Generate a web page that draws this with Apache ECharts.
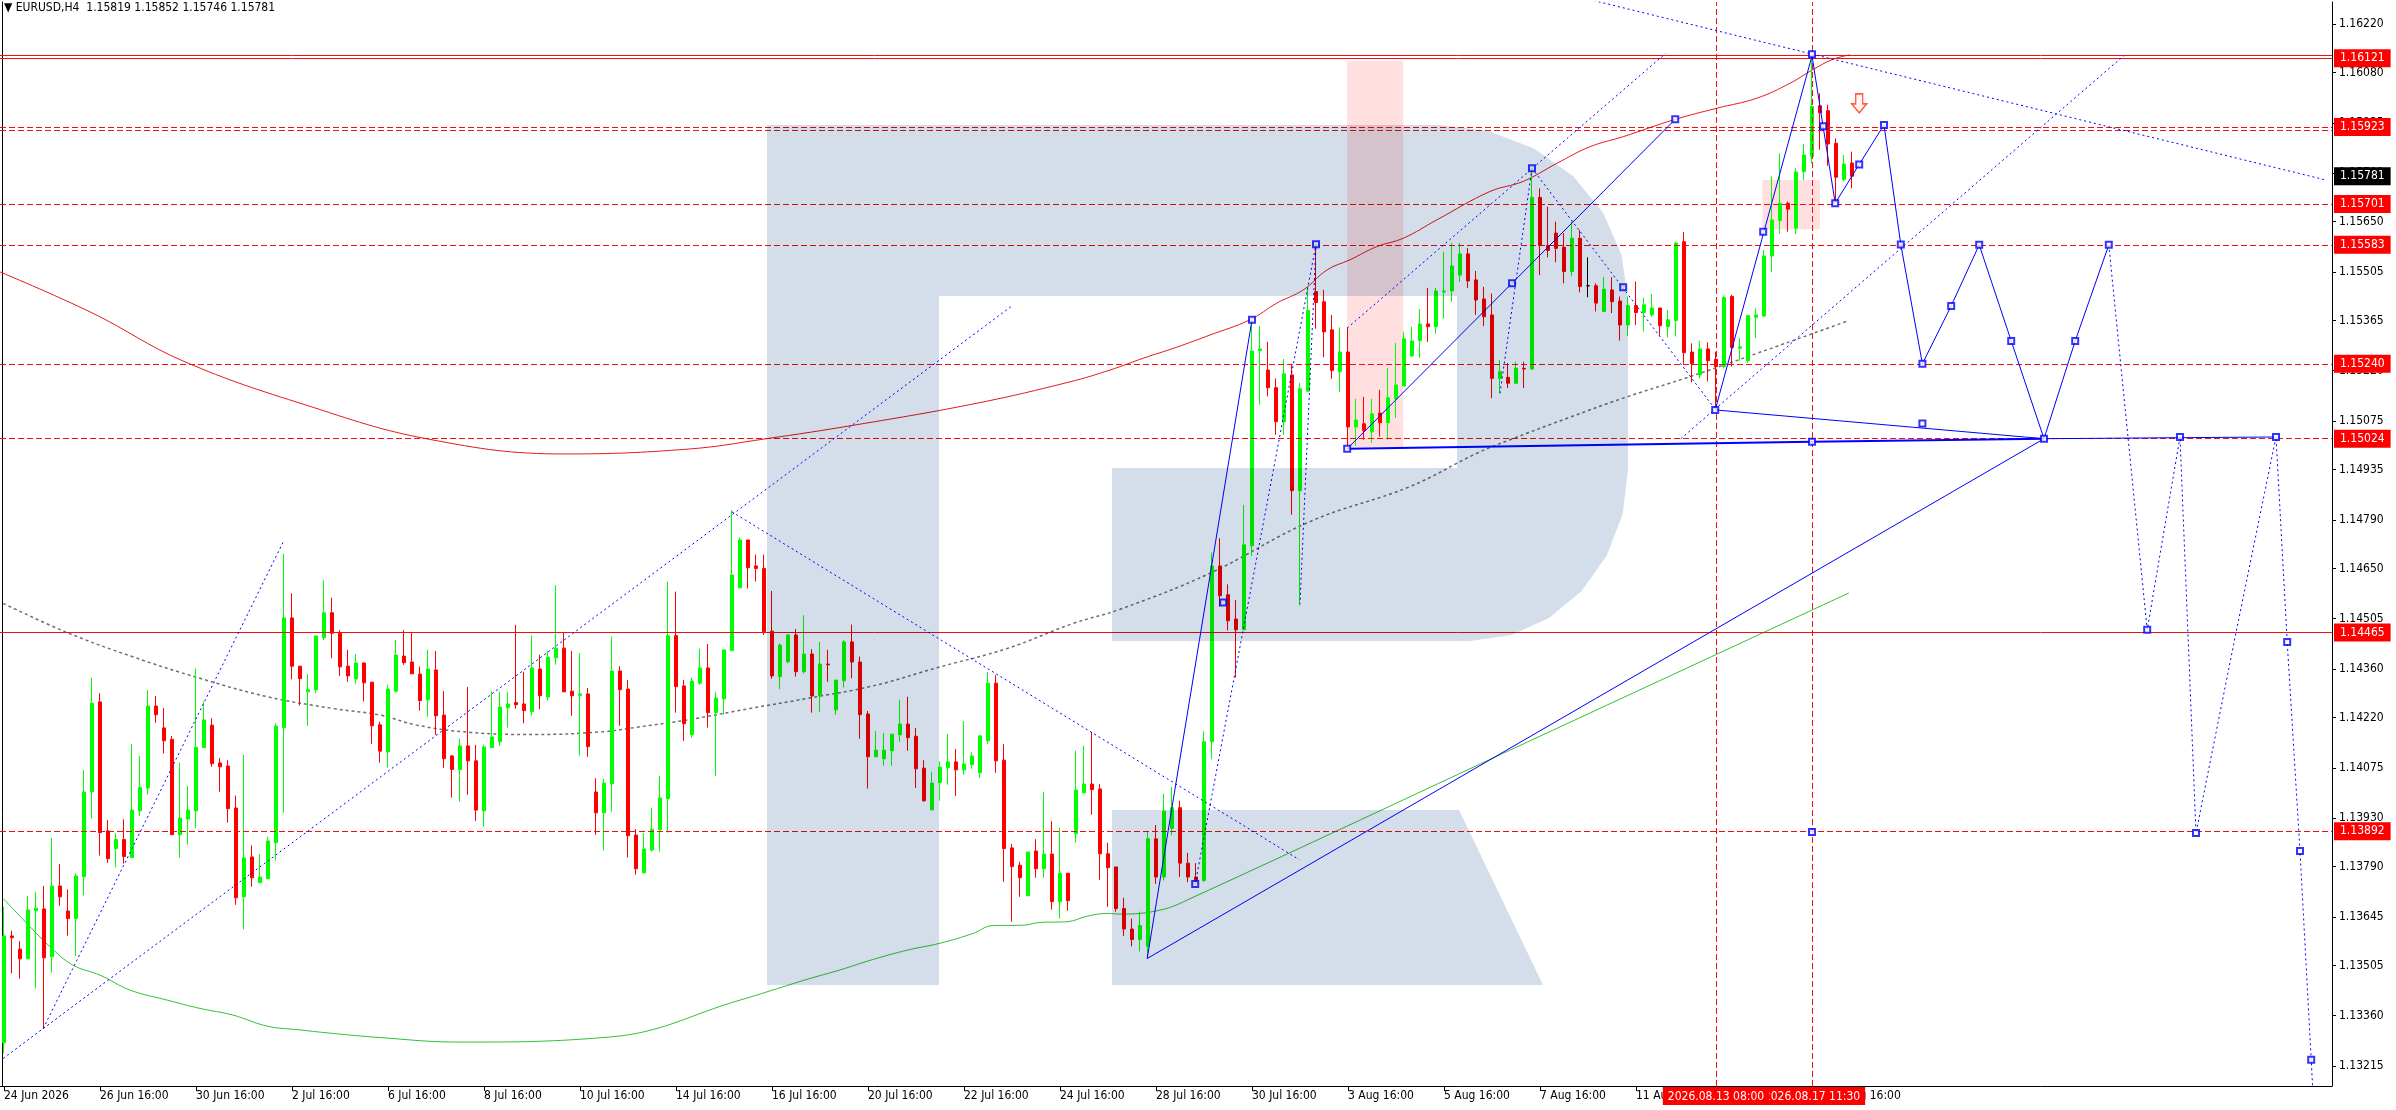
<!DOCTYPE html>
<html><head><meta charset="utf-8">
<script src="https://cdn.jsdelivr.net/npm/echarts@6/dist/echarts.min.js"></script>
<style>html,body{margin:0;padding:0;background:#fff;}#c{width:2396px;height:1110px;}</style>
</head><body><div id="c"></div>
<script>
const FONT = "'DejaVu Sans Condensed','DejaVu Sans',sans-serif";
const headerText = '\u25BC EURUSD,H4  1.15819 1.15852 1.15746 1.15781';

// ---- candles (H4 bars, index 0 = first bar) ----
const O = [1.13282,1.13590,1.13552,1.13524,1.13663,1.13668,1.13530,1.13734,1.13662,1.13640,
1.13761,1.14006,1.14265,1.13893,1.13842,1.13868,1.13816,1.13951,1.14017,1.14253,
1.14190,1.14157,1.13882,1.13927,1.13951,1.14133,1.14198,1.14089,1.14080,1.13959,
1.13703,1.13818,1.13744,1.13755,1.13859,1.14191,1.14507,1.14368,1.14294,1.14300,
1.14450,1.14522,1.14463,1.14368,1.14331,1.14377,1.14322,1.14199,1.14121,1.14296,
1.14397,1.14380,1.14345,1.14271,1.14357,1.14227,1.14109,1.14070,1.14138,1.14095,
1.13951,1.14133,1.14150,1.14248,1.14263,1.14259,1.14237,1.14360,1.14279,1.14392,
1.14420,1.14296,1.14284,1.14288,1.14005,1.13945,1.14029,1.14354,1.14302,1.13881,
1.13772,1.13838,1.13896,1.13986,1.14456,1.14311,1.14170,1.14319,1.14363,1.14234,
1.14274,1.14413,1.14594,1.14732,1.14657,1.14650,1.14469,1.14338,1.14381,1.14458,
1.14352,1.14403,1.14283,1.14374,1.14242,1.14326,1.14438,1.14380,1.14230,1.14107,
1.14101,1.14124,1.14170,1.14201,1.14166,1.14074,1.13954,1.14032,1.14075,1.14092,
1.14069,1.14084,1.14061,1.14153,1.14319,1.14097,1.13844,1.13794,1.13706,1.13835,
1.13784,1.13826,1.13689,1.13771,1.13885,1.14003,1.14028,1.14014,1.13827,1.13789,
1.13669,1.13610,1.13580,1.13560,1.13870,1.13760,1.13900,1.13960,1.13800,1.13760,
1.13750,1.14150,1.14657,1.14574,1.14504,1.14473,1.14715,1.15278,1.15222,1.15171,
1.15073,1.15208,1.14874,1.15161,1.15448,1.15419,1.15338,1.15217,1.15274,1.15058,
1.15067,1.15044,1.15098,1.15070,1.15139,1.15176,1.15263,1.15307,1.15355,1.15347,
1.15447,1.15450,1.15496,1.15557,1.15482,1.15427,1.15381,1.15198,1.15201,1.15184,
1.15227,1.15225,1.15720,1.15581,1.15617,1.15576,1.15506,1.15602,1.15465,1.15465,
1.15391,1.15453,1.15421,1.15352,1.15408,1.15388,1.15381,1.15401,1.15347,1.15365,
1.15592,1.15274,1.15208,1.15283,1.15253,1.15232,1.15434,1.15285,1.15249,1.15374,
1.15378,1.15551,1.15653,1.15703,1.15631,1.15794,1.15838,1.15984,1.15970,1.15876,
1.15772,1.15819];
const H = [1.13674,1.13605,1.13575,1.13705,1.13717,1.13734,1.13873,1.13797,1.13724,1.13770,
1.14068,1.14335,1.14290,1.13924,1.13886,1.13926,1.14143,1.14109,1.14299,1.14282,
1.14247,1.14166,1.14090,1.14022,1.14361,1.14266,1.14218,1.14103,1.14097,1.13995,
1.14112,1.13851,1.13826,1.13876,1.14203,1.14693,1.14578,1.14368,1.14345,1.14455,
1.14616,1.14565,1.14472,1.14415,1.14403,1.14380,1.14322,1.14207,1.14314,1.14443,
1.14472,1.14467,1.14367,1.14415,1.14412,1.14296,1.14112,1.14159,1.14308,1.14141,
1.14141,1.14296,1.14294,1.14294,1.14487,1.14352,1.14456,1.14401,1.14412,1.14602,
1.14467,1.14412,1.14406,1.14305,1.14045,1.14043,1.14453,1.14368,1.14328,1.13898,
1.13887,1.13960,1.14052,1.14612,1.14583,1.14328,1.14335,1.14418,1.14432,1.14294,
1.14415,1.14818,1.14739,1.14732,1.14690,1.14690,1.14585,1.14434,1.14461,1.14475,
1.14515,1.14417,1.14438,1.14415,1.14328,1.14443,1.14488,1.14396,1.14239,1.14181,
1.14175,1.14172,1.14271,1.14280,1.14190,1.14097,1.14063,1.14094,1.14173,1.14129,
1.14210,1.14120,1.14170,1.14351,1.14342,1.14143,1.13855,1.13804,1.13832,1.13869,
1.14006,1.13921,1.13902,1.13771,1.14124,1.14139,1.14178,1.14028,1.13859,1.13789,
1.13700,1.13640,1.13660,1.13890,1.13910,1.14000,1.14020,1.13980,1.13830,1.13800,
1.14180,1.14696,1.14737,1.14604,1.14559,1.14833,1.15367,1.15349,1.15303,1.15198,
1.15254,1.15240,1.15185,1.15463,1.15585,1.15453,1.15381,1.15345,1.15345,1.15139,
1.15145,1.15139,1.15165,1.15228,1.15300,1.15332,1.15347,1.15398,1.15459,1.15459,
1.15563,1.15589,1.15589,1.15574,1.15508,1.15462,1.15443,1.15251,1.15242,1.15246,
1.15246,1.15804,1.15746,1.15693,1.15650,1.15617,1.15650,1.15626,1.15547,1.15472,
1.15490,1.15490,1.15434,1.15434,1.15477,1.15431,1.15442,1.15401,1.15395,1.15592,
1.15620,1.15299,1.15306,1.15302,1.15275,1.15437,1.15439,1.15314,1.15381,1.15400,
1.15568,1.15780,1.15847,1.15708,1.15804,1.15874,1.16128,1.16020,1.15987,1.15890,
1.15842,1.15852];
const L = [1.13251,1.13482,1.13467,1.13524,1.13439,1.13323,1.13484,1.13677,1.13591,1.13532,
1.13707,1.13928,1.13822,1.13801,1.13788,1.13799,1.13816,1.13936,1.13997,1.14205,
1.14116,1.13882,1.13816,1.13853,1.13902,1.14133,1.14078,1.14006,1.13917,1.13680,
1.13609,1.13732,1.13742,1.13755,1.13807,1.13945,1.14330,1.14254,1.14196,1.14291,
1.14443,1.14391,1.14340,1.14323,1.14317,1.14266,1.14144,1.14090,1.14076,1.14292,
1.14372,1.14346,1.14240,1.14222,1.14170,1.14075,1.13989,1.13977,1.13997,1.13922,
1.13905,1.14133,1.14139,1.14191,1.14245,1.14203,1.14225,1.14244,1.14269,1.14372,
1.14294,1.14225,1.14110,1.14107,1.13882,1.13836,1.13948,1.14196,1.13816,1.13767,
1.13770,1.13833,1.13833,1.13888,1.14234,1.14153,1.14162,1.14314,1.14191,1.14052,
1.14228,1.14413,1.14594,1.14592,1.14612,1.14458,1.14332,1.14302,1.14376,1.14338,
1.14347,1.14234,1.14236,1.14323,1.14228,1.14306,1.14333,1.14159,1.14015,1.14104,
1.14081,1.14081,1.14150,1.14124,1.14017,1.13977,1.13951,1.13980,1.14026,1.13994,
1.14055,1.14072,1.14046,1.14144,1.14061,1.13746,1.13631,1.13703,1.13706,1.13758,
1.13758,1.13666,1.13640,1.13663,1.13859,1.14003,1.13940,1.13752,1.13674,1.13660,
1.13590,1.13560,1.13545,1.13526,1.13740,1.13750,1.13880,1.13760,1.13745,1.13740,
1.13745,1.14100,1.14540,1.14471,1.14335,1.14473,1.14686,1.15122,1.15146,1.15035,
1.15035,1.14805,1.14543,1.15161,1.15341,1.15259,1.15197,1.15159,1.15001,1.15003,
1.15021,1.15012,1.15030,1.15021,1.15084,1.15176,1.15259,1.15257,1.15303,1.15327,
1.15370,1.15419,1.15476,1.15459,1.15381,1.15349,1.15141,1.15155,1.15170,1.15182,
1.15170,1.15222,1.15496,1.15547,1.15533,1.15472,1.15492,1.15446,1.15432,1.15391,
1.15391,1.15386,1.15307,1.15321,1.15352,1.15333,1.15376,1.15321,1.15316,1.15319,
1.15240,1.15187,1.15198,1.15189,1.15107,1.15227,1.15232,1.15249,1.15242,1.15314,
1.15374,1.15504,1.15615,1.15621,1.15614,1.15770,1.15818,1.15857,1.15811,1.15708,
1.15766,1.15746];
const C = [1.13590,1.13585,1.13524,1.13665,1.13670,1.13527,1.13734,1.13703,1.13640,1.13763,
1.14005,1.14261,1.13888,1.13813,1.13868,1.13819,1.13953,1.14018,1.14253,1.14228,
1.14153,1.13882,1.13930,1.13953,1.14134,1.14213,1.14087,1.14078,1.13957,1.13700,
1.13815,1.13758,1.13760,1.13864,1.14195,1.14507,1.14368,1.14332,1.14300,1.14455,
1.14522,1.14463,1.14366,1.14340,1.14377,1.14320,1.14196,1.14123,1.14302,1.14400,
1.14378,1.14346,1.14269,1.14360,1.14225,1.14101,1.14070,1.14138,1.14095,1.13953,
1.14135,1.14164,1.14250,1.14259,1.14257,1.14240,1.14363,1.14283,1.14394,1.14420,
1.14294,1.14283,1.14288,1.14136,1.13945,1.14031,1.14354,1.14300,1.13879,1.13784,
1.13841,1.13898,1.13988,1.14456,1.14309,1.14202,1.14325,1.14363,1.14234,1.14276,
1.14415,1.14631,1.14732,1.14652,1.14650,1.14467,1.14340,1.14429,1.14458,1.14352,
1.14403,1.14282,1.14374,1.14372,1.14328,1.14438,1.14380,1.14228,1.14107,1.14126,
1.14126,1.14172,1.14201,1.14162,1.14072,1.13980,1.14031,1.14077,1.14092,1.14069,
1.14086,1.14109,1.14167,1.14319,1.14095,1.13842,1.13790,1.13758,1.13832,1.13784,
1.13826,1.13689,1.13771,1.13692,1.14011,1.14028,1.14012,1.13827,1.13787,1.13669,
1.13610,1.13580,1.13620,1.13870,1.13760,1.13950,1.13960,1.13800,1.13760,1.13750,
1.14150,1.14657,1.14571,1.14499,1.14473,1.14718,1.15277,1.15283,1.15171,1.15073,
1.15211,1.14874,1.15168,1.15394,1.15417,1.15332,1.15221,1.15274,1.15058,1.15078,
1.15047,1.15096,1.15070,1.15142,1.15179,1.15312,1.15306,1.15355,1.15347,1.15450,
1.15450,1.15522,1.15557,1.15479,1.15424,1.15376,1.15198,1.15218,1.15184,1.15227,
1.15225,1.15720,1.15581,1.15567,1.15573,1.15506,1.15602,1.15463,1.15465,1.15415,
1.15455,1.15419,1.15352,1.15408,1.15388,1.15410,1.15401,1.15350,1.15367,1.15588,
1.15272,1.15240,1.15283,1.15249,1.15232,1.15431,1.15287,1.15289,1.15379,1.15381,
1.15551,1.15655,1.15703,1.15686,1.15793,1.15842,1.15982,1.15964,1.15874,1.15778,
1.15816,1.15781];

// ---- axes ----
const timeTickIdx = [0,12,24,36,48,60,72,84,96,108,120,132,144,156,168,180,192,204,216,228];
const timeTickLabels = ['24 Jun 2026','26 Jun 16:00','30 Jun 16:00','2 Jul 16:00','6 Jul 16:00','8 Jul 16:00',
 '10 Jul 16:00','14 Jul 16:00','16 Jul 16:00','20 Jul 16:00','22 Jul 16:00','24 Jul 16:00','28 Jul 16:00',
 '30 Jul 16:00','3 Aug 16:00','5 Aug 16:00','7 Aug 16:00','11 Aug 16:00','13 Aug 16:00','17 Aug 16:00'];
const priceTicks = [1.16220,1.16080,1.15935,1.15790,1.15650,1.15505,1.15365,1.15220,1.15075,1.14935,1.14790,
 1.14650,1.14505,1.14360,1.14220,1.14075,1.13930,1.13790,1.13645,1.13505,1.13360,1.13215];
const Y_MIN = 1.131573, Y_MAX = 1.162834;

// ---- indicator curves [barIndex, price] ----
const redMA = [[-0.5,1.15505],[11,1.15387],[22.4,1.15248],[37.75,1.15121],[53,1.15023],[70.1,1.14980],[85.5,1.14994],
 [95,1.15023],[106.5,1.15064],[121.75,1.15127],[133.25,1.15188],[138.25,1.15222],[142.4,1.15256],[146.6,1.15288],
 [150.75,1.15323],[155.75,1.15367],[159.1,1.15415],[162.4,1.15453],[165.4,1.15511],[168.25,1.15540],[171.6,1.15578],
 [174.9,1.15602],[179.1,1.15655],[185.75,1.15737],[189.9,1.15766],[194.1,1.15818],[198.25,1.15866],[202.4,1.15895],
 [208.9,1.15945],[214.1,1.15977],[219.1,1.16006],[223.25,1.16049],[226,1.16087],[228.6,1.16118],[230.75,1.16131]];
const greenMA = [[-0.1,1.13698],[3.25,1.13617],[5.75,1.13559],[8.6,1.13506],[12,1.13477],[15.75,1.13434],[20.4,1.13405],
 [24.5,1.13381],[28.6,1.13362],[32.9,1.13330],[37,1.13319],[41.1,1.13309],[47,1.13297],[56.75,1.13284],[75.9,1.13299],
 [92,1.13405],[96.1,1.13434],[100.4,1.13465],[104.5,1.13492],[108.6,1.13522],[112.9,1.13549],[117,1.13569],
 [121.1,1.13597],[123.6,1.13620],[127.4,1.13621],[129.5,1.13629],[132.9,1.13631],[135.4,1.13647],[137.9,1.13655],
 [139.5,1.13653],[144.6,1.13665],[148.5,1.13700],[190.5,1.14150],[230.6,1.14579]];
const greyCurve = [[-0.1,1.14549],[7.9,1.14465],[16.1,1.14395],[24.5,1.14333],[32.9,1.14280],[41.1,1.14246],[47,1.14227],
 [51.6,1.14198],[58.25,1.14177],[66.6,1.14171],[74.9,1.14179],[79.1,1.14192],[85.4,1.14213],[93.25,1.14246],
 [100.4,1.14275],[108.6,1.14311],[117,1.14366],[125.4,1.14419],[133.6,1.14491],[139.5,1.14532],[150.75,1.14636],
 [163.25,1.14785],[175.75,1.14886],[184.1,1.14982],[188.25,1.15021],[195.4,1.15083],[202.4,1.15141],[210.75,1.15203],
 [219.1,1.15270],[227.4,1.15338],[230.5,1.15364]];

// ---- drawn objects [barIndex, price] ----
const blueSolid = [
 [[142.9,1.13525],[156,1.15367]],
 [[142.9,1.13525],[255,1.15024]],
 [[167.9,1.14995],[208.9,1.15945]],
 [[213.9,1.15107],[226,1.16128]],
 [[213.9,1.15107],[255,1.15024]],
 [[226,1.16128],[228.9,1.15703],[231.9,1.15815],[235,1.15929],[237.1,1.15584],[239.8,1.15240],[243.4,1.15407],
  [246.9,1.15583],[250.9,1.15306],[255,1.15024],[258.9,1.15306],[263.1,1.15583]],
 [[255,1.15024],[284,1.15029]]
];
const blueThick = [[167.9,1.14995],[226,1.15015],[255,1.15024]];
const blueDotted = [
 [[4.9,1.13323],[34.9,1.14726]],
 [[-0.1,1.13237],[126,1.15407]],
 [[91,1.14813],[161.9,1.13810]],
 [[148.9,1.13740],[164,1.15585],[162,1.14548]],
 [[167.9,1.15343],[207.7,1.16135]],
 [[209.6,1.15024],[265,1.16129]],
 [[198.1,1.16291],[290.25,1.15770]],
 [[191,1.15804],[213.9,1.15109]],
 [[187,1.15155],[191,1.15804]],
 [[263.1,1.15583],[267.9,1.14473],[272,1.15029],[274,1.13887],[279,1.14465],[284,1.15029],[285.4,1.14438],
  [287,1.13835],[288.4,1.13233],[288.7,1.13100]]
];
const squares = [[148.9,1.13740],[156,1.15367],[164,1.15585],[152.4,1.14552],[167.9,1.14995],[188.5,1.15472],
 [208.9,1.15945],[191,1.15804],[202.4,1.15461],[213.9,1.15107],[219.9,1.15621],[226,1.16133],[227.4,1.15925],
 [228.9,1.15703],[231.9,1.15815],[235,1.15929],[237.1,1.15584],[239.8,1.15240],[243.4,1.15407],[246.9,1.15583],
 [250.9,1.15306],[255,1.15024],[258.9,1.15306],[263.1,1.15583],[267.9,1.14473],[272,1.15029],[274,1.13887],
 [284,1.15029],[285.4,1.14438],[287,1.13835],[288.4,1.13233],[226,1.15015],[226,1.13890],[239.8,1.15068]];
const arrowPoint = [[231.9,1.15991]];
const pinkBoxes = [[[167.9,1.16113],[174.9,1.15000]],[[219.8,1.15770],[227,1.15628]]];

// ---- horizontal / vertical levels ----
const levels = [1.16131,1.16121,1.15923,1.15914,1.15701,1.15583,1.15240,1.15024,1.14465,1.13892];
const levelDashed = [false,false,true,true,true,true,true,true,false,true];
const levelLabeled = [false,true,true,false,true,true,true,true,true,true];
const lastPrice = 1.15781;
const vLines = [226, 214];
const vLineLabels = ['2026.08.17 11:30','2026.08.13 08:00'];

const RED = '#F01010', BLUE = '#0000FF', LOGO = '#D4DEEA';

const candleData = O.map((o, i) => [i, o, C[i], L[i], H[i]]);
const boxLabel = {show:true, position:'end', distance:2, color:'#fff', backgroundColor:'#FF0000',
  padding:[3,6,2,6], fontFamily:FONT, fontSize:12, lineHeight:13};
const mlData = levels.map((v, i) => ({
  yAxis: v,
  lineStyle: {color: RED, width: 1, type: levelDashed[i] ? [6,3] : 'solid'},
  label: levelLabeled[i] ? Object.assign({}, boxLabel, {formatter: v.toFixed(5)}) : {show:false}
}));
mlData.push({yAxis: lastPrice, lineStyle:{color:'rgba(0,0,0,0)', width:0},
  label: Object.assign({}, boxLabel, {backgroundColor:'#000000', color:'#ffffff', opacity:1, formatter: lastPrice.toFixed(5)})});
vLines.forEach((x, i) => mlData.push({
  xAxis: x, lineStyle:{color: RED, width:1, type:[6,3]},
  label: Object.assign({}, boxLabel, {position:'start', distance:1, padding:[3,5,2,5], formatter: vLineLabels[i]})
}));

function lineS(pts, color, width, type, smooth, z) {
  return {type:'line', data: pts, symbol:'none', showSymbol:false, smooth: smooth || false, silent:true,
    lineStyle:{color, width, type}, z: z || 3, clip:true, animation:false};
}

const series = [{
  type:'candlestick', data: candleData, barWidth: 4, z: 4,
  itemStyle:{color:'#00FF00', color0:'#FF0000', borderColor:'#00FF00', borderColor0:'#FF0000', borderColorDoji:'#000', borderWidth:1},
  markLine:{symbol:['none','none'], silent:true, animation:false, precision:6, data: mlData},
  markArea:{silent:true, itemStyle:{color:'rgba(255,140,140,0.28)'},
    data: pinkBoxes.map(b => [{coord:b[0]},{coord:b[1]}])}
}];
series.push(lineS(redMA, '#E41B1B', 1, 'solid', 0.4));
series.push(lineS(greenMA, '#35C035', 1, 'solid', 0.4));
series.push(lineS(greyCurve, '#6E6E6E', 1.5, [3,3], 0.4));
blueDotted.forEach(p => series.push(lineS(p, BLUE, 1, [2,3], false, 5)));
blueSolid.forEach(p => series.push(lineS(p, BLUE, 1, 'solid', false, 5)));
series.push(lineS(blueThick, BLUE, 2, 'solid', false, 5));
series.push({type:'scatter', data: squares, symbol:'emptyRect', symbolSize:6, silent:true, z:6,
  itemStyle:{color: BLUE, borderWidth:1}});
series.push({type:'scatter', data: arrowPoint, symbol:'path://M4,0L11,0L11,10L15,10L7.5,19L0,10L4,10Z',
  symbolSize:[15,19], silent:true, z:6, itemStyle:{color:'#FFF3EC', borderColor:'#FF3515', borderWidth:1.5}});

const logoBowl = [[767,125],[1440,125],[1488.7,131],[1534,148.5],[1573,176],[1603,212.5],[1621.6,254.7],[1628,300],
 [1628,470],[1622.6,514.3],[1606.8,555.5],[1581.7,591],[1549,618],[1510.9,635.2],[1470,641],[1112,641],[1112,468],
 [1457,468],[1457,296],[939,296],[939,985],[767,985]];
const logoLeg = [[1112,810],[1459,810],[1543,985],[1112,985]];

const chart = echarts.init(document.getElementById('c'));
chart.setOption({
  animation:false, backgroundColor:'#fff',
  title:{text: headerText, left:4, top:2, padding:0,
    textStyle:{fontFamily:FONT, fontSize:12, fontWeight:'normal', color:'#000'}},
  grid:{left:0, right:64, top:2, bottom:24},
  xAxis:{type:'value', min:-0.5, max:291,
    axisLine:{show:true, onZero:false, lineStyle:{color:'#000', width:1}},
    axisTick:{show:true, customValues: timeTickIdx, length:5, lineStyle:{color:'#000'}},
    axisLabel:{customValues: timeTickIdx, formatter: v => timeTickLabels[timeTickIdx.indexOf(Math.round(v))] || '',
      align:'left', margin:4, color:'#000', fontFamily:FONT, fontSize:12},
    splitLine:{show:false}},
  yAxis:[{type:'value', position:'right', min:Y_MIN, max:Y_MAX,
    axisLine:{show:true, onZero:false, lineStyle:{color:'#000', width:1}},
    axisTick:{show:true, customValues: priceTicks, length:4, lineStyle:{color:'#000'}},
    axisLabel:{customValues: priceTicks, formatter: v => v.toFixed(5), margin:7, color:'#000', fontFamily:FONT, fontSize:12},
    splitLine:{show:false}},
   {type:'value', position:'left', min:Y_MIN, max:Y_MAX, offset:-2,
    axisLine:{show:true, onZero:false, lineStyle:{color:'#000', width:1}},
    axisTick:{show:false}, axisLabel:{show:false}, splitLine:{show:false}}],
  graphic:[
    {type:'polygon', z:100, silent:true, shape:{points: logoBowl}, style:{fill: LOGO, blend:'multiply'}},
    {type:'polygon', z:100, silent:true, shape:{points: logoLeg}, style:{fill: LOGO, blend:'multiply'}}
  ],
  series
});
</script></body></html>
